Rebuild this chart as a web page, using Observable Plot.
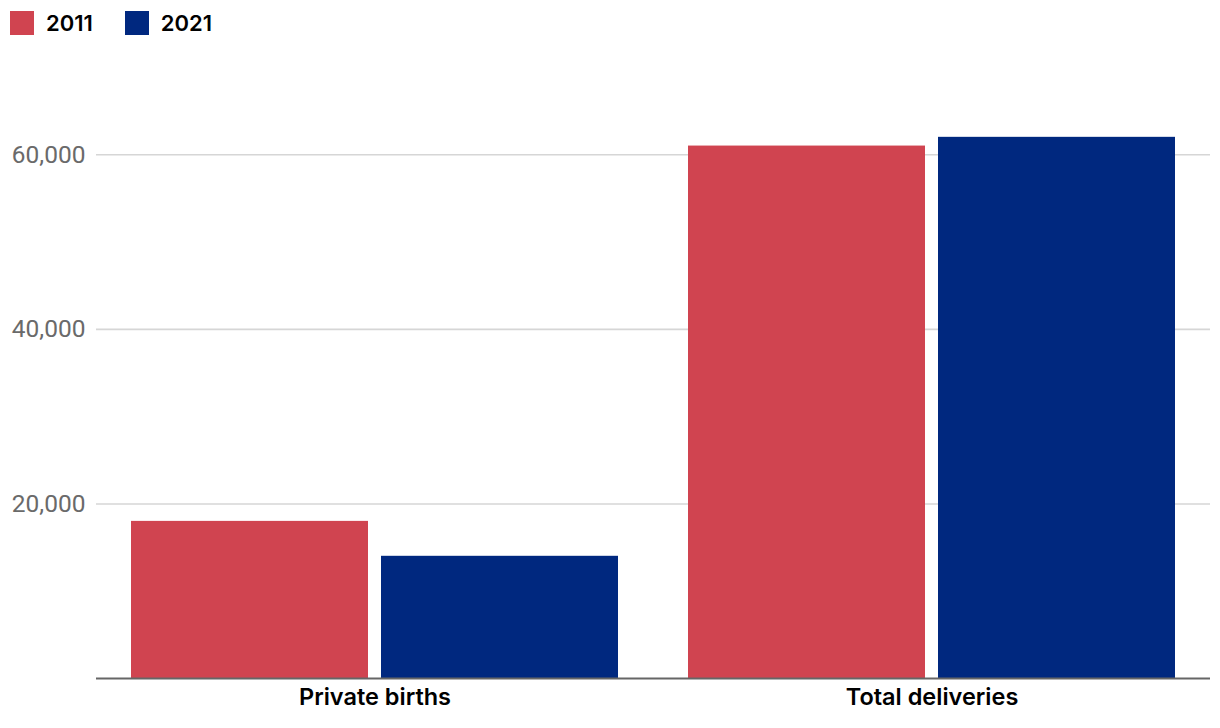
<!DOCTYPE html>
<html>
<head>
<meta charset="utf-8">
<script src="https://cdn.jsdelivr.net/npm/d3@7"></script>
<script src="https://cdn.jsdelivr.net/npm/@observablehq/plot@0.6"></script>
<style>
  body { margin: 0; background: #fff; }
  #legend { height: 46px; box-sizing: border-box; padding: 11px 0 0 10px; display: flex; align-items: flex-start; font-family: Inter, "Noto Sans", sans-serif; font-weight: 600; font-size: 22px; color: #000; }
  #legend .item { display: flex; align-items: center; margin-right: 32px; height: 24px; }
  #legend .sw { width: 24px; height: 24px; margin-right: 12px; }
  #chart svg { display: block; }
</style>
</head>
<body>
<div id="legend"></div>
<div id="chart"></div>
<script>
const categories = ["Private births", "Total deliveries"];
const years = ["2011", "2021"];
const values2011 = [18000, 61000];
const values2021 = [14000, 62000];
const colors = ["#d04450", "#00287f"];
const yTicks = [20000, 40000, 60000];

const data = [];
categories.forEach((c, i) => {
  data.push({category: c, year: years[0], value: values2011[i]});
  data.push({category: c, year: years[1], value: values2021[i]});
});

const legend = document.getElementById("legend");
years.forEach((y, i) => {
  const item = document.createElement("div");
  item.className = "item";
  item.innerHTML = `<span class="sw" style="background:${colors[i]}"></span><span>${y}</span>`;
  legend.appendChild(item);
});

const chart = Plot.plot({
  width: 1220,
  height: 682,
  marginLeft: 96,
  marginRight: 10,
  marginTop: 21,
  marginBottom: 50,
  style: {fontFamily: "Roboto, 'Noto Sans', sans-serif", background: "#fff"},
  fx: {domain: categories, padding: 0, label: null, axis: null},
  x: {domain: years, paddingInner: 0.052, paddingOuter: 0.139, axis: null},
  y: {domain: [0, 70000], axis: null},
  color: {domain: years, range: colors},
  marks: [
    Plot.ruleY(yTicks, {stroke: "#d6d6d6", strokeWidth: 1.6}),
    Plot.barY(data, {fx: "category", x: "year", y: "value", fill: "year"}),
    Plot.ruleY([0], {stroke: "#666", strokeWidth: 2}),
    Plot.axisY({ticks: yTicks, tickFormat: d3.format(","), tickSize: 0, tickPadding: 11, fontSize: 24.5, fill: "#6a6a6a", label: null}),
    Plot.axisFx({anchor: "bottom", label: null, tickSize: 0, tickPadding: 10, fontSize: 23.5, fontWeight: 600, fill: "#000", fontFamily: "Inter, 'Noto Sans', sans-serif"})
  ]
});
document.getElementById("chart").appendChild(chart);
</script>
</body>
</html>
